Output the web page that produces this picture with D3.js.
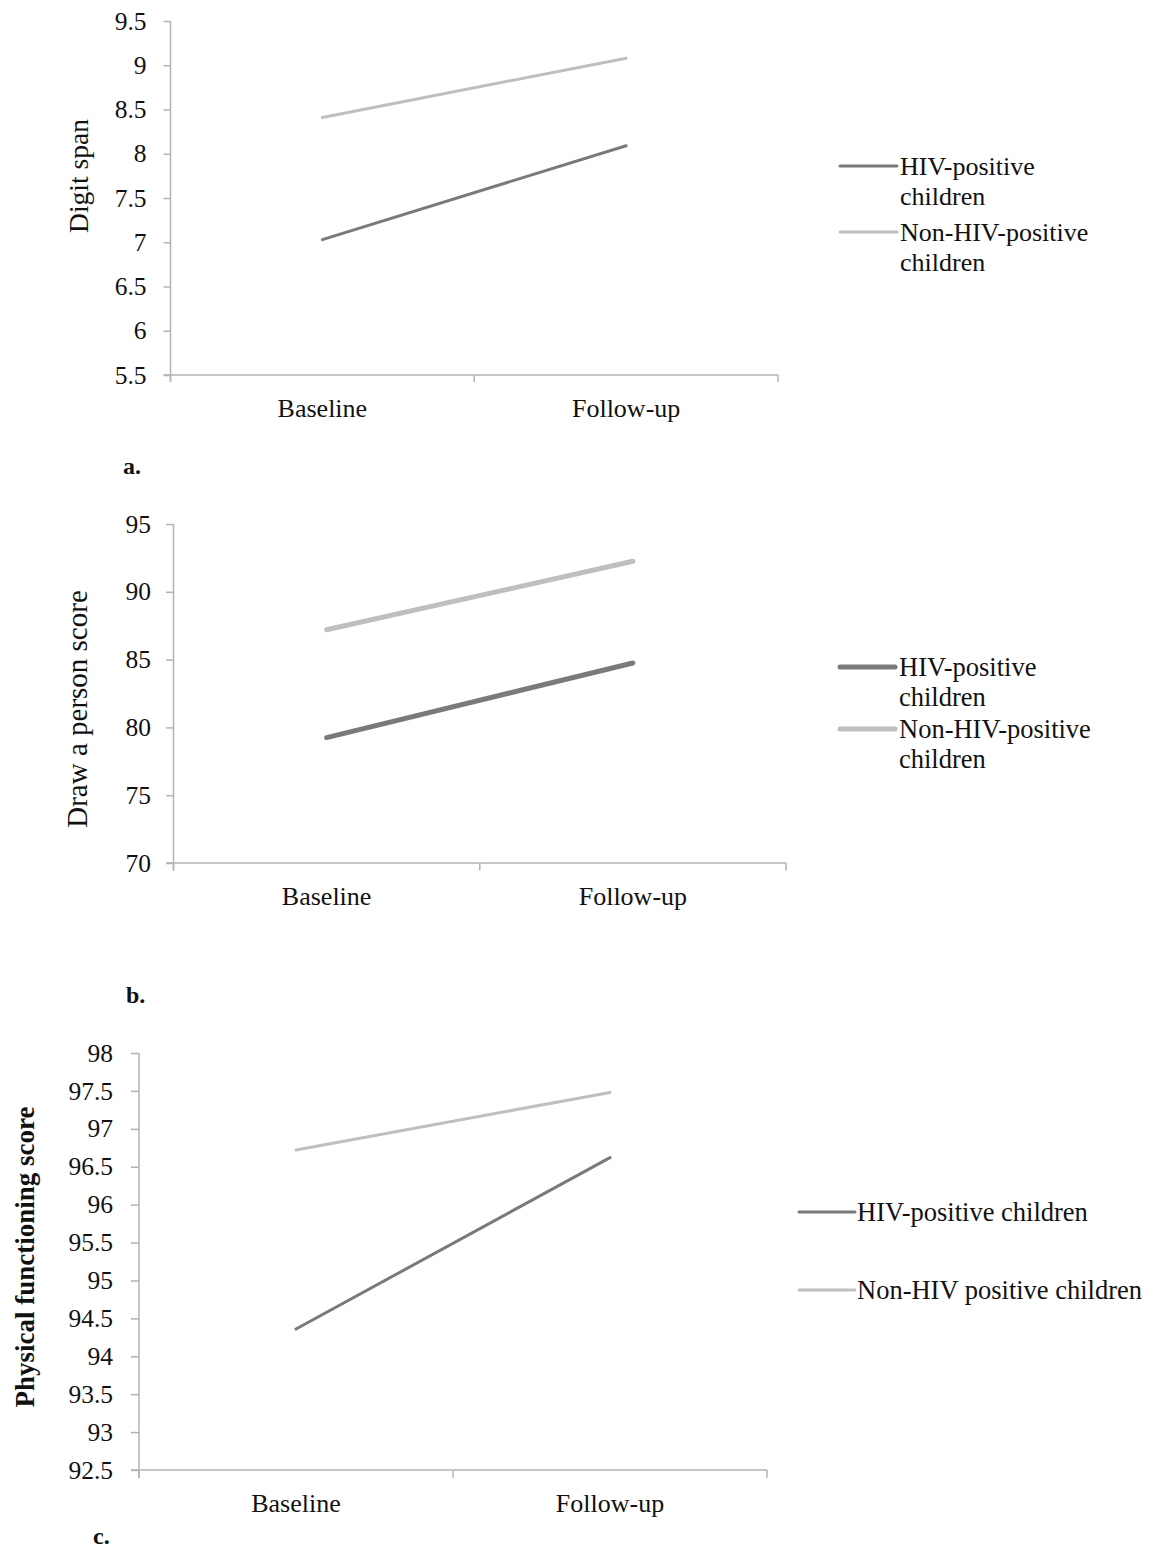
<!DOCTYPE html>
<html>
<head>
<meta charset="utf-8">
<script src="https://cdn.jsdelivr.net/npm/d3@7"></script>
<style>
  html, body { margin: 0; padding: 0; background: #ffffff; }
  svg text { font-family: "Liberation Serif", "Times New Roman", serif; fill: #111; }
</style>
</head>
<body>
<svg id="chart" width="1158" height="1551"></svg>
<script>
// ---------- data ----------
const categories = ["Baseline", "Follow-up"];
const seriesNames = ["HIV-positive children", "Non-HIV-positive children"];

const digitSpanHIV = [7.03, 8.09];
const digitSpanNonHIV = [8.41, 9.08];
const digitSpanTicks = [5.5, 6, 6.5, 7, 7.5, 8, 8.5, 9, 9.5];

const drawPersonHIV = [79.25, 84.75];
const drawPersonNonHIV = [87.2, 92.25];
const drawPersonTicks = [70, 75, 80, 85, 90, 95];

const physicalHIV = [94.36, 96.62];
const physicalNonHIV = [96.72, 97.48];
const physicalTicks = [92.5, 93, 93.5, 94, 94.5, 95, 95.5, 96, 96.5, 97, 97.5, 98];

// ---------- layout / style ----------
const svg = d3.select("#chart");
const DARK = "#7a7a7a", LIGHT = "#bfbfbf", AXIS = "#b3b3b3";

const panels = [
  {
    hiv: digitSpanHIV, non: digitSpanNonHIV, ticks: digitSpanTicks,
    left: 170.5, right: 778, top: 21, bottom: 375, tickLen: 7, pad: 17,
    title: "Digit span", titleX: 88, titleY: 176, titleSize: 27.5, titleBold: false,
    lw: 3, letter: "a.", letterX: 123, letterY: 474,
    legend: { x1: 840, x2: 897, tx: 900, fs: 26, rows: [
      { y: 166, lines: ["HIV-positive", "children"] },
      { y: 232, lines: ["Non-HIV-positive", "children"] } ], lh: 30 }
  },
  {
    hiv: drawPersonHIV, non: drawPersonNonHIV, ticks: drawPersonTicks,
    left: 173.5, right: 786, top: 524, bottom: 863, tickLen: 7.5, pad: 15,
    title: "Draw a person score", titleX: 87, titleY: 709, titleSize: 29, titleBold: false,
    lw: 5, letter: "b.", letterX: 126, letterY: 1003,
    legend: { x1: 840, x2: 895, tx: 899, fs: 26.5, rows: [
      { y: 667, lines: ["HIV-positive", "children"] },
      { y: 729, lines: ["Non-HIV-positive", "children"] } ], lh: 30 }
  },
  {
    hiv: physicalHIV, non: physicalNonHIV, ticks: physicalTicks,
    left: 139, right: 767, top: 1053, bottom: 1470, tickLen: 8, pad: 18,
    title: "Physical functioning score", titleX: 34, titleY: 1257, titleSize: 27, titleBold: true,
    lw: 3, letter: "c.", letterX: 93, letterY: 1544,
    legend: { x1: 799, x2: 855, tx: 857, fs: 26.5, rows: [
      { y: 1212, lines: ["HIV-positive children"] },
      { y: 1290, lines: ["Non-HIV positive children"] } ], lh: 30 }
  }
];

panels.forEach(p => {
  const g = svg.append("g");
  const x = d3.scaleBand().domain(categories).range([p.left, p.right]).padding(0);
  const y = d3.scaleLinear().domain([p.ticks[0], p.ticks[p.ticks.length - 1]]).range([p.bottom, p.top]);
  const cx = c => x(c) + x.bandwidth() / 2;

  // y axis
  const yAxis = d3.axisLeft(y).tickValues(p.ticks).tickSize(p.tickLen).tickPadding(p.pad)
    .tickFormat(d => String(d));
  const ya = g.append("g").attr("transform", `translate(${p.left},0)`).call(yAxis);
  ya.select(".domain").attr("stroke", AXIS).attr("stroke-width", 1.5)
    .attr("d", `M0,${p.top}V${p.bottom + p.tickLen}`);
  ya.selectAll(".tick line").attr("stroke", AXIS).attr("stroke-width", 1.5);
  ya.selectAll(".tick text").attr("font-size", 25.5).attr("fill", "#111");

  // x axis
  const xAxis = d3.axisBottom(x).tickSize(0).tickPadding(24);
  const xa = g.append("g").attr("transform", `translate(0,${p.bottom})`).call(xAxis);
  xa.select(".domain").attr("stroke", AXIS).attr("stroke-width", 1.5)
    .attr("d", `M${p.left - p.tickLen},0H${p.right}`);
  xa.selectAll(".tick text").attr("font-size", 26).attr("fill", "#111").attr("dy", "0.71em");
  // category boundary ticks
  const bounds = categories.map(c => x(c)).concat([x(categories[categories.length - 1]) + x.bandwidth()]);
  g.selectAll(".xb").data(bounds).join("line")
    .attr("x1", d => d).attr("x2", d => d)
    .attr("y1", p.bottom).attr("y2", p.bottom + p.tickLen)
    .attr("stroke", AXIS).attr("stroke-width", 1.5);

  // y title
  g.append("text")
    .attr("transform", `translate(${p.titleX},${p.titleY}) rotate(-90)`)
    .attr("text-anchor", "middle").attr("font-size", p.titleSize)
    .attr("font-weight", p.titleBold ? "bold" : "normal")
    .text(p.title);

  // lines
  const line = d3.line().x((d, i) => cx(categories[i])).y(d => y(d));
  [[p.non, LIGHT], [p.hiv, DARK]].forEach(([vals, col]) => {
    g.append("path").datum(vals).attr("d", line)
      .attr("fill", "none").attr("stroke", col).attr("stroke-width", p.lw)
      .attr("stroke-linecap", "round");
  });

  // legend
  const L = p.legend;
  [DARK, LIGHT].forEach((col, i) => {
    const r = L.rows[i];
    g.append("line").attr("x1", L.x1).attr("x2", L.x2).attr("y1", r.y).attr("y2", r.y)
      .attr("stroke", col).attr("stroke-width", p.lw).attr("stroke-linecap", "round");
    const t = g.append("text").attr("x", L.tx).attr("y", r.y + 9).attr("font-size", L.fs);
    r.lines.forEach((s, k) => {
      t.append("tspan").attr("x", L.tx).attr("dy", k === 0 ? 0 : L.lh).text(s);
    });
  });

  // panel letter
  g.append("text").attr("x", p.letterX).attr("y", p.letterY)
    .attr("font-size", 24).attr("font-weight", "bold").text(p.letter);
});
</script>
</body>
</html>
